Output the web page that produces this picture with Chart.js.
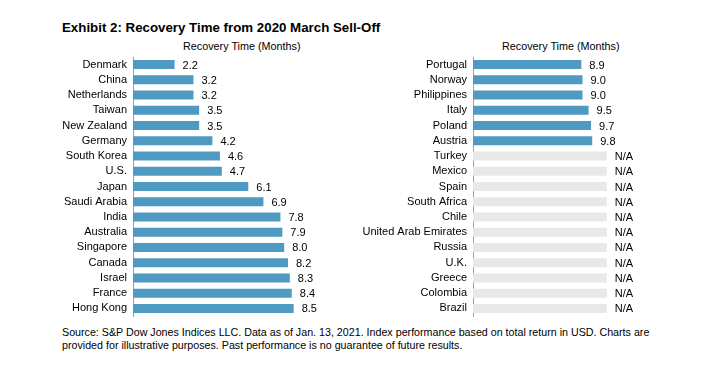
<!DOCTYPE html>
<html><head><meta charset="utf-8">
<script src="https://cdn.jsdelivr.net/npm/chart.js@4/dist/chart.umd.min.js"></script>
<style>
html,body{margin:0;padding:0;background:#fff;width:716px;height:386px;overflow:hidden;font-family:"Liberation Sans",Arial,sans-serif;}
.t{position:absolute;white-space:nowrap;color:#000;}
#c1{position:absolute;left:0;top:0;}
#c2{position:absolute;left:340px;top:0;}
</style></head><body>
<div class="t" style="left:62px;top:20px;font-size:13.3px;font-weight:bold;">Exhibit 2: Recovery Time from 2020 March Sell-Off</div>
<div class="t" style="left:183px;top:40px;font-size:10.8px;">Recovery Time (Months)</div>
<div class="t" style="left:502px;top:40px;font-size:10.8px;">Recovery Time (Months)</div>
<div class="t" style="left:62px;top:326px;font-size:10.7px;line-height:13px;">Source: S&amp;P Dow Jones Indices LLC. Data as of Jan. 13, 2021. Index performance based on total return in USD. Charts are<br>provided for illustrative purposes. Past performance is no guarantee of future results.</div>
<canvas id="c1" width="340" height="386"></canvas>
<canvas id="c2" width="376" height="386"></canvas>
<script>
const leftCountries = ["Denmark","China","Netherlands","Taiwan","New Zealand","Germany","South Korea","U.S.","Japan","Saudi Arabia","India","Australia","Singapore","Canada","Israel","France","Hong Kong"];
const leftValues = [2.2,3.2,3.2,3.5,3.5,4.2,4.6,4.7,6.1,6.9,7.8,7.9,8.0,8.2,8.3,8.4,8.5];
const rightCountries = ["Portugal","Norway","Philippines","Italy","Poland","Austria","Turkey","Mexico","Spain","South Africa","Chile","United Arab Emirates","Russia","U.K.","Greece","Colombia","Brazil"];
const rightValues = [8.9,9.0,9.0,9.5,9.7,9.8,null,null,null,null,null,null,null,null,null,null,null];
const naBarLength = 11;

const BLUE = "#4E9AC2", GRAY = "#E8E8E6", AXIS = "#A0A0A0";
const FONT = {family:'"Liberation Sans", Arial, sans-serif', size:11};

const valueLabels = {
  id:'valueLabels',
  afterDatasetsDraw(chart){
    const ctx = chart.ctx;
    const meta = chart.getDatasetMeta(0);
    const vals = chart.config.options.plugins.valueLabels.values;
    ctx.save();
    ctx.font = '11px "Liberation Sans", Arial, sans-serif';
    ctx.fillStyle = '#000';
    ctx.textBaseline = 'middle';
    ctx.textAlign = 'left';
    meta.data.forEach((bar,i)=>{
      const v = vals[i];
      const txt = (v===null||v===undefined) ? 'N/A' : v.toFixed(1);
      ctx.fillText(txt, bar.x + 8, bar.y + 1);
    });
    ctx.restore();
  }
};

function makeChart(id, labels, values, max, padRight){
  const data = values.map(v => v===null ? naBarLength : v);
  const colors = values.map(v => v===null ? GRAY : BLUE);
  return new Chart(document.getElementById(id), {
    type:'bar',
    data:{labels, datasets:[{data, backgroundColor:colors, borderWidth:0, categoryPercentage:1, barPercentage:0.59}]},
    options:{
      indexAxis:'y', responsive:false, animation:false,
      layout:{padding:{top:57,bottom:70,left:0,right:padRight}},
      plugins:{legend:{display:false}, tooltip:{enabled:false}, title:{display:false}, valueLabels:{values}},
      scales:{
        x:{display:false, min:0, max:max},
        y:{
          afterFit(s){ s.width = 133; },
          grid:{display:false, drawTicks:false},
          border:{display:true, color:AXIS, width:1},
          ticks:{color:'#000', font:FONT, padding:6, autoSkip:false}
        }
      }
    },
    plugins:[valueLabels]
  });
}
makeChart('c1', leftCountries, leftValues, 10, 340-322);
makeChart('c2', rightCountries, rightValues, 12, 376-279);
</script>
</body></html>
